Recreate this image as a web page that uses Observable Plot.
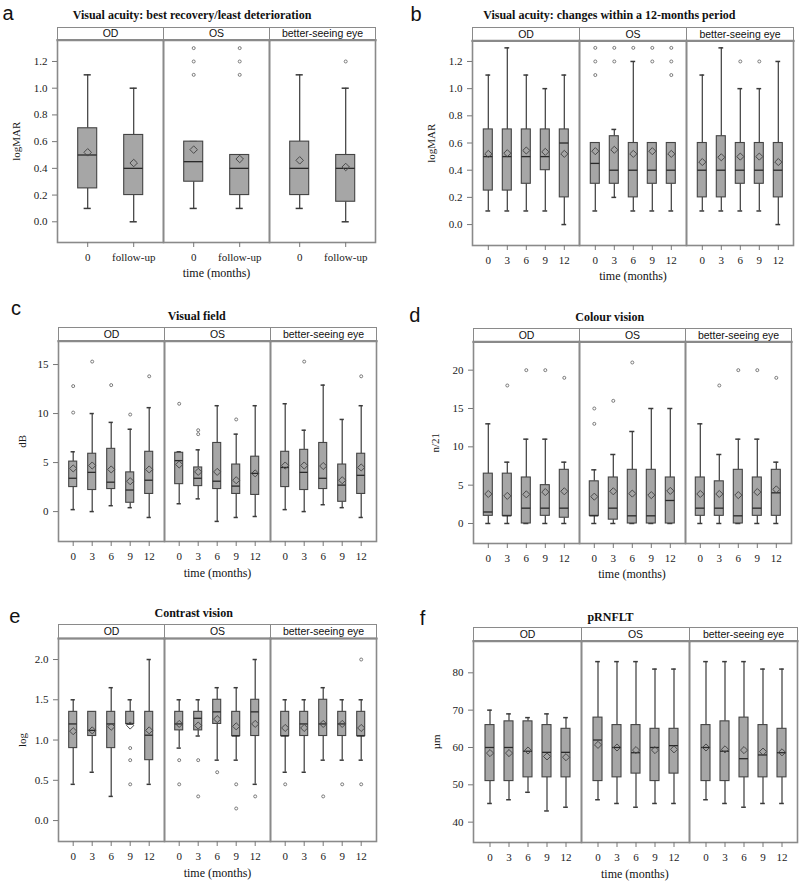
<!DOCTYPE html>
<html><head><meta charset="utf-8">
<script src="https://cdn.jsdelivr.net/npm/d3@7"></script>
<script src="https://cdn.jsdelivr.net/npm/@observablehq/plot@0.6"></script>
<style>
body{margin:0;background:#fff;}
#root{position:relative;width:800px;height:887px;overflow:hidden;background:#fff;}
.abs{position:absolute;white-space:nowrap;line-height:1;}
.letter{font-family:"Liberation Sans",Arial,sans-serif;font-size:20px;color:#111;}
.title{font-family:"Liberation Serif","Times New Roman",serif;font-weight:bold;font-size:12px;text-align:center;width:400px;color:#111;}
.xlab{font-family:"Liberation Serif","Times New Roman",serif;font-size:12px;text-align:center;width:300px;color:#111;}
.plot{position:absolute;}
</style></head><body><div id="root"></div>
<script>
const eyes = ["OD", "OS", "better-seeing eye"];
const timesA = ["0", "follow-up"];
const times = ["0", "3", "6", "9", "12"];

// a: Visual acuity best recovery (order: OD 0, OD fu, OS 0, OS fu, BSE 0, BSE fu)
const aLow  = [0.1, 0.0, 0.1, 0.1, 0.1, 0.0];
const aQ1   = [0.25, 0.2, 0.3, 0.2, 0.2, 0.15];
const aMed  = [0.5, 0.4, 0.45, 0.4, 0.4, 0.4];
const aQ3   = [0.7, 0.65, 0.6, 0.5, 0.6, 0.5];
const aHigh = [1.1, 1.0, 0.6, 0.5, 1.1, 1.0];
const aMean = [0.52, 0.44, 0.54, 0.47, 0.46, 0.41];
const aOut = [["OS","0",1.1],["OS","0",1.2],["OS","0",1.3],["OS","follow-up",1.1],["OS","follow-up",1.2],["OS","follow-up",1.3],["better-seeing eye","follow-up",1.2]];
const aTicks = [0.0, 0.2, 0.4, 0.6, 0.8, 1.0, 1.2];

// b: Visual acuity 12 months (OD 0..12, OS 0..12, BSE 0..12)
const bLow  = [0.1,0.1,0.1,0.1,0.0, 0.1,0.2,0.1,0.1,0.1, 0.1,0.1,0.1,0.1,0.0];
const bQ1   = [0.25,0.25,0.3,0.4,0.2, 0.3,0.3,0.2,0.3,0.3, 0.2,0.2,0.3,0.3,0.2];
const bMed  = [0.5,0.5,0.5,0.5,0.6, 0.45,0.4,0.4,0.4,0.4, 0.4,0.4,0.4,0.4,0.4];
const bQ3   = [0.7,0.7,0.7,0.7,0.7, 0.6,0.65,0.6,0.6,0.6, 0.6,0.65,0.6,0.6,0.6];
const bHigh = [1.1,1.3,1.1,1.0,1.1, 0.6,0.7,1.2,0.6,0.6, 1.1,1.3,1.0,1.0,1.2];
const bMean = [0.52,0.525,0.545,0.535,0.52, 0.54,0.55,0.52,0.54,0.52, 0.46,0.495,0.5,0.5,0.46];
const bOut = [["OS","0",1.1],["OS","0",1.2],["OS","0",1.3],["OS","3",1.2],["OS","3",1.3],["OS","6",1.3],["OS","9",1.2],["OS","9",1.3],["OS","12",1.1],["OS","12",1.2],["OS","12",1.3],["better-seeing eye","6",1.2],["better-seeing eye","9",1.2]];

// c: Visual field (dB)
const cLow  = [0.2,0.0,0.6,0.4,-0.6, 0.8,1.3,-1.0,-0.6,-0.5, 0.2,0.0,0.7,0.4,-0.6];
const cQ1   = [2.5,2.2,2.3,0.9,1.8, 2.8,2.6,2.3,1.8,1.7, 2.5,2.2,2.3,1.0,1.8];
const cMed  = [3.4,4.0,3.0,2.2,3.2, 5.2,3.4,3.1,2.6,3.9, 4.5,4.0,3.4,2.7,3.7];
const cQ3   = [5.1,5.9,6.4,4.0,6.1, 6.0,4.5,7.0,4.8,5.6, 6.1,6.3,7.0,4.8,5.9];
const cHigh = [6.1,10.0,9.1,8.4,10.6, 6.1,6.3,10.8,7.9,10.8, 11.0,8.3,12.9,9.4,10.8];
const cMean = [4.4,4.7,4.3,3.1,4.3, 4.8,4.05,4.05,3.2,3.9, 4.7,4.7,4.65,3.2,4.5];
const cOut = [["OD","0",10.1],["OD","0",12.8],["OD","3",15.3],["OD","6",12.9],["OD","9",9.9],["OD","12",13.8],["OS","0",11.0],["OS","3",7.9],["OS","3",8.3],["OS","9",9.4],["better-seeing eye","3",15.3],["better-seeing eye","12",13.8]];
const cTicks = [0, 5, 10, 15];

// d: Colour vision (n/21)
const dLow  = [0,0,0,0,0, 0,0,0,0,0, 0,0,0,0,0];
const dQ1   = [1,1,0,1,0.75, 1,0.5,0,0,0, 1,1,0,1,1];
const dMed  = [1.5,1,2,2,2, 1,2,1,1,3, 2,2,1,2,4];
const dQ3   = [6.5,6.5,6,5,7, 5.5,6,7,7,6, 6,5.5,7,6,7];
const dHigh = [13,8,11,11,8, 7,9,12,15,15, 13,9,11,11,8];
const dMean = [3.85,3.6,3.8,4.1,4.2, 3.5,4.2,3.9,3.7,4.25, 3.85,3.85,3.7,4.1,4.45];
const dOut = [["OD","3",18],["OD","6",20],["OD","9",20],["OD","12",19],["OS","0",13],["OS","0",15],["OS","3",16],["OS","6",21],["better-seeing eye","3",18],["better-seeing eye","6",20],["better-seeing eye","9",20],["better-seeing eye","12",19]];
const dTicks = [0, 5, 10, 15, 20];

// e: Contrast vision (log)
const eLow  = [0.45,0.6,0.3,1.2,0.45, 0.9,1.05,0.75,0.75,0.45, 0.6,0.6,0.75,0.75,0.75];
const eQ1   = [0.9,1.05,0.9,1.2,0.75, 1.12,1.12,1.2,1.05,1.05, 1.05,1.05,1.05,1.05,1.05];
const eMed  = [1.2,1.12,1.2,1.2,1.06, 1.2,1.27,1.35,1.05,1.35, 1.05,1.2,1.2,1.2,1.05];
const eQ3   = [1.35,1.35,1.35,1.35,1.35, 1.35,1.35,1.5,1.35,1.5, 1.35,1.35,1.5,1.35,1.35];
const eHigh = [1.5,1.35,1.65,1.5,2.0, 1.5,1.5,1.65,1.65,2.0, 1.5,1.5,1.65,1.5,1.5];
const eMean = [1.11,1.12,1.165,1.18,1.12, 1.2,1.18,1.26,1.17,1.2, 1.15,1.15,1.2,1.2,1.15];
const eOut = [["OD","9",0.9],["OD","9",0.75],["OD","9",0.45],["OS","0",0.75],["OS","0",0.45],["OS","3",0.75],["OS","3",0.3],["OS","6",0.6],["OS","9",0.45],["OS","9",0.15],["OS","12",0.3],["better-seeing eye","0",0.45],["better-seeing eye","6",0.3],["better-seeing eye","9",0.45],["better-seeing eye","12",2.0],["better-seeing eye","12",0.45]];
const eTicks = [0.0, 0.5, 1.0, 1.5, 2.0];

// f: pRNFLT (µm)
const fLow  = [45,46,48,43,44, 46,45,44,45,45, 46,45,44,45,45];
const fQ1   = [51,51,52,52,52, 51,52,53,51,53, 51,51,52,52,52];
const fMed  = [60,60,59,58.7,58.7, 62,60,58.6,60,60.5, 60,59,57,58,58.6];
const fQ3   = [66,67,67,66,65, 68,66,66,65,65, 66,67,68,66,65];
const fHigh = [70,69,68,69,68, 83,83,83,81,81, 83,83,83,81,81];
const fMean = [58.5,58.5,59.2,57.6,57.4, 60.7,60,59.3,59.3,59.5, 60,59.5,59.3,58.9,58.7];
const fOut = [];
const fTicks = [40, 50, 60, 70, 80];

const SERIF = '"Liberation Serif","Times New Roman",serif';
const SANS = '"Liberation Sans",Arial,sans-serif';
const root = document.getElementById("root");

function addText(cls, txt, left, top) {
  const d = document.createElement("div");
  d.className = "abs " + cls;
  d.textContent = txt;
  d.style.left = left + "px";
  d.style.top = top + "px";
  root.appendChild(d);
}

function buildRows(tl, low, q1, med, q3, high, mean) {
  const rows = [];
  eyes.forEach((eye, i) => tl.forEach((time, j) => {
    const k = i * tl.length + j;
    rows.push({eye, time, low: low[k], q1: q1[k], med: med[k], q3: q3[k], high: high[k], mean: mean[k]});
  }));
  return rows;
}

function panel(c) {
  const rows = buildRows(c.times, c.low, c.q1, c.med, c.q3, c.high, c.mean);
  const outs = c.out.map(([eye, time, value]) => ({eye, time, value}));
  const svgTop = c.headerTop - 3;
  const mb = 27;
  const height = Math.round(c.frameBottom + mb - svgTop);
  const mt = c.frameTop - svgTop;
  const ml = c.frameLeft - c.left;
  const mr = c.left + 400 - c.frameRight;
  const hh = c.frameTop - c.headerTop;
  const facetW = (c.frameRight - c.frameLeft) / 3;
  const n = c.times.length;
  const step = facetW / (n - c.pi + 2 * c.po);
  const bw = step * (1 - c.pi);
  const capInset = Math.max(0, (bw - c.capW) / 2);
  const frameColor = "#8a8a8a";
  const dark = "#3a3a3a";
  const plot = Plot.plot({
    width: 400, height,
    marginTop: mt, marginLeft: ml, marginRight: mr, marginBottom: mb,
    style: {fontFamily: SERIF, fontSize: "11px", color: "#1a1a1a", background: "transparent", overflow: "visible"},
    fx: {domain: eyes, padding: 0, axis: null, label: null},
    x: {type: "band", domain: c.times, paddingInner: c.pi, paddingOuter: c.po, label: null},
    y: {domain: c.yDomain, label: c.ylabel, labelArrow: "none"},
    marks: [
      Plot.frame({insetTop: -hh, fill: "white", stroke: frameColor, strokeWidth: 1}),
      Plot.frame({stroke: frameColor, strokeWidth: 1.6}),
      Plot.frame({anchor: "top", stroke: frameColor, strokeWidth: 2.2}),
      Plot.text(eyes, {fx: d => d, text: d => d, frameAnchor: "top", lineAnchor: "middle", dy: -hh / 2, fontFamily: SANS, fontSize: 10.5, fill: "#111"}),
      Plot.axisX({tickSize: 5, tickPadding: 6, stroke: "#777", fill: "#1a1a1a", fontSize: 11, label: null}),
      Plot.axisY(c.ticks, {tickSize: 5, tickPadding: 5, tickFormat: c.fmt, stroke: "#777", fill: "#1a1a1a", fontSize: 11,
        label: c.ylabel, labelArrow: "none", labelAnchor: "center", labelOffset: c.labelOffset}),
      Plot.ruleX(rows, {fx: "eye", x: "time", y1: "low", y2: "q1", stroke: dark, strokeWidth: 1.2}),
      Plot.ruleX(rows, {fx: "eye", x: "time", y1: "q3", y2: "high", stroke: dark, strokeWidth: 1.2}),
      Plot.tickY(rows, {fx: "eye", x: "time", y: "low", insetLeft: capInset, insetRight: capInset, stroke: dark, strokeWidth: 1.5}),
      Plot.tickY(rows, {fx: "eye", x: "time", y: "high", insetLeft: capInset, insetRight: capInset, stroke: dark, strokeWidth: 1.5}),
      Plot.barY(rows, {fx: "eye", x: "time", y1: "q1", y2: "q3", fill: "#a6a6a6", stroke: "#444", strokeWidth: 1.1}),
      Plot.tickY(rows, {fx: "eye", x: "time", y: "med", stroke: "#2a2a2a", strokeWidth: 1.3}),
      Plot.dot(rows, {fx: "eye", x: "time", y: "mean", symbol: "diamond2", r: c.meanR, stroke: "#4a4a4a", fill: "none", strokeWidth: 1}),
      Plot.dot(outs, {fx: "eye", x: "time", y: "value", r: 1.5, stroke: "#7a7a7a", fill: "none", strokeWidth: 1})
    ]
  });
  plot.classList.add("plot");
  plot.style.left = c.left + "px";
  plot.style.top = svgTop + "px";
  root.appendChild(plot);
  addText("letter", c.letter, c.letterX, c.letterBase - 16.9);
  addText("title", c.title, c.titleX - 200, c.titleBase - 10.05);
  addText("xlab", "time (months)", (c.frameLeft + c.frameRight) / 2 - 150, c.frameBottom + 35.5 - 10.05);
}

const fmt1 = d3.format(".1f");
const fmt0 = d3.format("d");

panel({letter: "a", letterX: 2.5, letterBase: 20, title: "Visual acuity: best recovery/least deterioration", titleX: 192, titleBase: 19.3,
  left: 0, frameLeft: 57.3, frameRight: 375.7, headerTop: 26.7, frameTop: 39.3, frameBottom: 241.7,
  yDomain: [-0.155, 1.36], ticks: aTicks, fmt: fmt1, ylabel: "logMAR", labelOffset: 45.5,
  times: timesA, pi: 0.58, po: 0.44, capW: 7.5, meanR: 3.4,
  low: aLow, q1: aQ1, med: aMed, q3: aQ3, high: aHigh, mean: aMean, out: aOut});

panel({letter: "b", letterX: 410.4, letterBase: 20.7, title: "Visual acuity: changes within a 12-months period", titleX: 609.3, titleBase: 19.3,
  left: 400, frameLeft: 471.7, frameRight: 794.3, headerTop: 26.7, frameTop: 40, frameBottom: 245,
  yDomain: [-0.154, 1.352], ticks: aTicks, fmt: fmt1, ylabel: "logMAR", labelOffset: 45.5,
  times: times, pi: 0.53, po: 0.5, capW: 5, meanR: 3.2,
  low: bLow, q1: bQ1, med: bMed, q3: bQ3, high: bHigh, mean: bMean, out: bOut});

panel({letter: "c", letterX: 11, letterBase: 315, title: "Visual field", titleX: 196.7, titleBase: 320,
  left: 0, frameLeft: 57.3, frameRight: 377.7, headerTop: 327.3, frameTop: 341, frameBottom: 541.7,
  yDomain: [-3.05, 17.38], ticks: cTicks, fmt: fmt0, ylabel: "dB", labelOffset: 40,
  times: times, pi: 0.56, po: 0.46, capW: 5, meanR: 3.2,
  low: cLow, q1: cQ1, med: cMed, q3: cQ3, high: cHigh, mean: cMean, out: cOut});

panel({letter: "d", letterX: 409.3, letterBase: 322, title: "Colour vision", titleX: 609.7, titleBase: 320.7,
  left: 400, frameLeft: 471.7, frameRight: 792.3, headerTop: 327.7, frameTop: 341, frameBottom: 542.3,
  yDomain: [-2.61, 23.7], ticks: dTicks, fmt: fmt0, ylabel: "n/21", labelOffset: 42.4,
  times: times, pi: 0.55, po: 0.47, capW: 5, meanR: 3.2,
  low: dLow, q1: dQ1, med: dMed, q3: dQ3, high: dHigh, mean: dMean, out: dOut});

panel({letter: "e", letterX: 9.3, letterBase: 623, title: "Contrast vision", titleX: 193.7, titleBase: 617.5,
  left: 0, frameLeft: 57.3, frameRight: 377.7, headerTop: 624.3, frameTop: 638.3, frameBottom: 841.7,
  yDomain: [-0.26, 2.261], ticks: eTicks, fmt: fmt1, ylabel: "log", labelOffset: 40.6,
  times: times, pi: 0.56, po: 0.46, capW: 5, meanR: 3.2,
  low: eLow, q1: eQ1, med: eMed, q3: eQ3, high: eHigh, mean: eMean, out: eOut});

panel({letter: "f", letterX: 419.8, letterBase: 625, title: "pRNFLT", titleX: 610.5, titleBase: 620.7,
  left: 400, frameLeft: 472, frameRight: 797.7, headerTop: 627.3, frameTop: 641, frameBottom: 842.7,
  yDomain: [34.55, 88.47], ticks: fTicks, fmt: fmt0, ylabel: "µm", labelOffset: 41,
  times: times, pi: 0.53, po: 0.5, capW: 5, meanR: 3.2,
  low: fLow, q1: fQ1, med: fMed, q3: fQ3, high: fHigh, mean: fMean, out: fOut});
</script>
</body></html>
